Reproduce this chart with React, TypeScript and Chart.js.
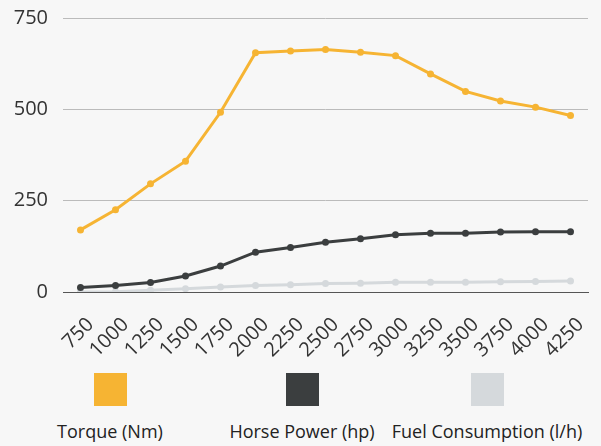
import React, { useEffect, useRef } from "react";
import { Chart, registerables } from "chart.js";

Chart.register(...registerables);

const rpm = ["750", "1000", "1250", "1500", "1750", "2000", "2250", "2500", "2750", "3000", "3250", "3500", "3750", "4000", "4250"];
const torque = [170, 225, 296, 358, 492, 655, 660, 664, 656, 647, 597, 549, 523, 506, 483];
const horsePower = [12, 18, 26, 44, 71, 109, 122, 136, 146, 157, 161, 161, 164, 165, 165];
const fuel = [0, 1, 5, 9, 14, 18, 20, 23, 24, 27, 27, 27, 28, 29, 30];
const yTicks = [0, 250, 500, 750];

const seriesNames = ["Torque (Nm)", "Horse Power (hp)", "Fuel Consumption (l/h)"];
const seriesColors = ["#F6B433", "#3B3E3F", "#D5D9DC"];

const FONT = "'Open Sans', sans-serif";

export default function App() {
  const ref = useRef<HTMLCanvasElement | null>(null);

  useEffect(() => {
    document.body.style.margin = "0";
    document.body.style.background = "#f7f7f7";
    const ctx = ref.current;
    if (!ctx) return;
    const values = [torque, horsePower, fuel];
    const chart = new Chart(ctx, {
      type: "line",
      data: {
        labels: rpm,
        datasets: values.map((v, i) => ({
          label: seriesNames[i],
          data: v,
          borderColor: seriesColors[i],
          backgroundColor: seriesColors[i],
          borderWidth: 3,
          pointRadius: 3.5,
          pointBorderWidth: 0,
          tension: 0,
          fill: false,
        })),
      },
      options: {
        animation: false,
        responsive: false,
        maintainAspectRatio: false,
        layout: { padding: { top: 18, right: 13, left: 0, bottom: 0 } },
        plugins: { legend: { display: false }, tooltip: { enabled: false } },
        scales: {
          x: {
            type: "category",
            offset: true,
            grid: { display: false, drawTicks: false },
            border: { display: true, color: "#555", width: 1 },
            ticks: {
              color: "#333",
              font: { family: FONT, size: 20 },
              minRotation: 45,
              maxRotation: 45,
              autoSkip: false,
              padding: 21,
              labelOffset: 10,
            },
            afterFit: (s: any) => {
              s.height = 68;
              s.paddingLeft = 0;
              s.paddingRight = 0;
            },
          },
          y: {
            min: 0,
            max: 750,
            afterBuildTicks: (s: any) => {
              s.ticks = yTicks.map((v) => ({ value: v }));
            },
            grid: {
              drawTicks: false,
              color: (c: any) => (c.tick && c.tick.value === 0 ? "#555" : "#bbb"),
              lineWidth: 1,
            },
            border: { display: false },
            ticks: {
              color: "#333",
              font: { family: FONT, size: 20 },
              padding: 15,
            },
            afterFit: (s: any) => {
              s.width = 63;
              s.paddingTop = 0;
              s.paddingBottom = 0;
            },
          },
        },
      },
    });
    return () => chart.destroy();
  }, []);

  const centers = [110, 302, 487];

  return (
    <div style={{ position: "relative", width: 601, height: 446, background: "#f7f7f7", overflow: "hidden" }}>
      <canvas ref={ref} width={601} height={360} style={{ position: "absolute", left: 0, top: 0, width: 601, height: 360 }} />
      {seriesNames.map((name, i) => (
        <div key={name}>
          <div
            style={{
              position: "absolute",
              left: centers[i] - 16.5,
              top: 373,
              width: 33,
              height: 33,
              background: seriesColors[i],
            }}
          />
          <div
            style={{
              position: "absolute",
              left: centers[i] - 120,
              width: 240,
              top: 419,
              textAlign: "center",
              fontFamily: FONT,
              fontSize: 18,
              lineHeight: "24px",
              color: "#222",
              whiteSpace: "nowrap",
            }}
          >
            {name}
          </div>
        </div>
      ))}
    </div>
  );
}
